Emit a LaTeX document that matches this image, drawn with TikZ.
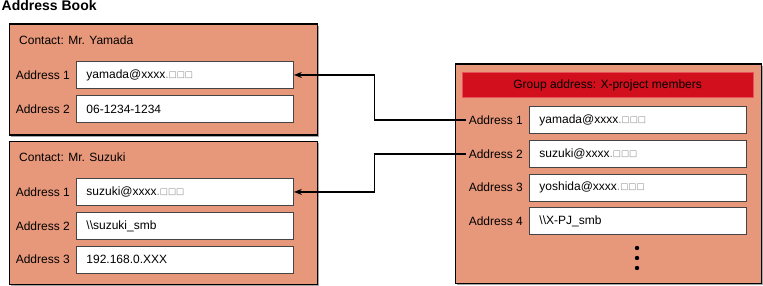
\documentclass[tikz,border=0pt]{standalone}
\usepackage{fontspec}
\setmainfont{Liberation Sans}
\newfontfamily\symfont{DejaVu Sans}
\usetikzlibrary{arrows.meta,shadows,calc}
\definecolor{salmon}{HTML}{E8987A}
\definecolor{hdrred}{HTML}{D20F1C}
\definecolor{hdrline}{HTML}{E8505A}
\definecolor{fieldline}{HTML}{444444}
\definecolor{sqgray}{HTML}{8A8A8A}
\newcommand{\sqs}{{\color{sqgray}.\raisebox{0.6pt}{\symfont\fontsize{8.6}{8.6}\selectfont □□□}}}
\tikzset{
  book/.style={draw=black, line width=1.4pt, fill=salmon, inner sep=0pt,
    drop shadow={shadow xshift=1.6pt, shadow yshift=-1.6pt, fill=black!35, opacity=1}},
  field/.style={draw=fieldline, line width=0.9pt, fill=white, anchor=north west,
    text width=197pt, inner xsep=10pt, inner ysep=0pt, minimum height=27pt, align=left,
    font=\fontsize{12}{14}\selectfont},
  lbl/.style={inner sep=0pt, anchor=east, font=\fontsize{12}{14}\selectfont},
  ttl/.style={inner sep=0pt, anchor=base west, font=\fontsize{12}{14}\selectfont},
  conn/.style={draw=black, line width=1.2pt},
  arr/.style={conn, -{Stealth[length=8pt,width=6pt]}},
}
\begin{document}
\begin{tikzpicture}[x=1pt,y=-1pt]
\useasboundingbox (0,0) rectangle (763,286);
% title
\node[inner sep=0pt, anchor=base west, font=\fontsize{14}{16}\selectfont\bfseries] (title) at (1.5,10.8) {Address Book};

% Yamada contact
\node[book, anchor=north west, minimum width=307.5pt, minimum height=111pt] (yam) at (9,23.5) {};
\node[ttl] (yamt) at (19,44.5) {Contact: Mr. Yamada};
\node[field, text width=197pt] (ya1) at (76,61) {yamada@xxxx\sqs};
\node[field] (ya2) at (76,95.5) {06-1234-1234};
\node[lbl] (yal1) at ($(ya1.west)+(-6,0)$) {Address 1};
\node[lbl] (yal2) at ($(ya2.west)+(-6,0)$) {Address 2};

% Suzuki contact
\node[book, anchor=north west, minimum width=307.5pt, minimum height=143pt] (suz) at (9,141) {};
\node[ttl] (suzt) at (19,161.5) {Contact: Mr. Suzuki};
\node[field] (su1) at (76,178) {suzuki@xxxx\sqs};
\node[field] (su2) at (76,212) {\textbackslash\textbackslash suzuki\_smb};
\node[field] (su3) at (76,245.5) {192.168.0.XXX};
\node[lbl] (sul1) at ($(su1.west)+(-6,0)$) {Address 1};
\node[lbl] (sul2) at ($(su2.west)+(-6,0)$) {Address 2};
\node[lbl] (sul3) at ($(su3.west)+(-6,0)$) {Address 3};

% Group
\node[book, anchor=north west, minimum width=306pt, minimum height=219.5pt] (grp) at (455,63.5) {};
\node[draw=hdrline, line width=0.8pt, fill=hdrred, anchor=north west, minimum width=290.5pt,
  minimum height=24.5pt, inner sep=0pt, font=\fontsize{12}{14}\selectfont] (hdr) at (462,72.3) {Group address: X-project members};
\node[field] (g1) at (529,106) {yamada@xxxx\sqs};
\node[field] (g2) at (529,140) {suzuki@xxxx\sqs};
\node[field] (g3) at (529,173.5) {yoshida@xxxx\sqs};
\node[field] (g4) at (529,207) {\textbackslash\textbackslash X-PJ\_smb};
\node[lbl] (gl1) at ($(g1.west)+(-6,0)$) {Address 1};
\node[lbl] (gl2) at ($(g2.west)+(-6,0)$) {Address 2};
\node[lbl] (gl3) at ($(g3.west)+(-6,0)$) {Address 3};
\node[lbl] (gl4) at ($(g4.west)+(-6,0)$) {Address 4};
\fill (637,248) circle (2.2);
\fill (637,258) circle (2.2);
\fill (637,268) circle (2.2);

% connectors
\draw[arr, shorten <=2.5pt] (gl1.west) -- ++(-94,0) |- (ya1.east);
\draw[arr, shorten <=2.5pt] (gl2.west) -- ++(-94,0) |- (su1.east);
\end{tikzpicture}
\end{document}
